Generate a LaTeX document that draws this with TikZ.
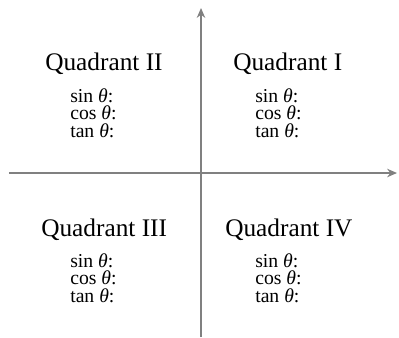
\documentclass[tikz,border=0pt]{standalone}
\usepackage{fontspec}
\setmainfont{Liberation Serif}
\usetikzlibrary{arrows.meta}
\begin{document}
\begin{tikzpicture}[x=0.025cm, y=0.025cm]
% Quadrant chart for the signs of the trig functions
\tikzset{
  axisline/.style={draw=black!50, line width=1.3pt, -{Stealth[length=7pt,width=6pt]}},
  quadtitle/.style={anchor=base west, inner sep=0pt, font=\fontsize{18}{20}\selectfont},
  trigline/.style={anchor=base west, inner sep=0pt, font=\fontsize{14}{16}\selectfont}
}
\useasboundingbox (-201,-164) rectangle (198,173);
% Axes
\coordinate (xleft) at (-192,0);
\coordinate (xright) at (196,0);
\coordinate (ybottom) at (0,-164);
\coordinate (ytop) at (0,165);
\draw[axisline] (xleft) -- (xright);
\draw[axisline] (ybottom) -- (ytop);
% Quadrant II
\node[quadtitle] (qtwo) at (-156,103) {Quadrant II};
\node[trigline] (qtwosin) at (-131,71) {sin \textit{θ}:};
\node[trigline] (qtwocos) at (-131,53.5) {cos \textit{θ}:};
\node[trigline] (qtwotan) at (-131,36) {tan \textit{θ}:};
% Quadrant I
\node[quadtitle] (qone) at (32,103) {Quadrant I};
\node[trigline] (qonesin) at (54,71) {sin \textit{θ}:};
\node[trigline] (qonecos) at (54,53.5) {cos \textit{θ}:};
\node[trigline] (qonetan) at (54,36) {tan \textit{θ}:};
% Quadrant III
\node[quadtitle] (qthree) at (-160,-63) {Quadrant III};
\node[trigline] (qthreesin) at (-131,-94) {sin \textit{θ}:};
\node[trigline] (qthreecos) at (-131,-111.5) {cos \textit{θ}:};
\node[trigline] (qthreetan) at (-131,-129) {tan \textit{θ}:};
% Quadrant IV
\node[quadtitle] (qfour) at (24,-63) {Quadrant IV};
\node[trigline] (qfoursin) at (54,-94) {sin \textit{θ}:};
\node[trigline] (qfourcos) at (54,-111.5) {cos \textit{θ}:};
\node[trigline] (qfourtan) at (54,-129) {tan \textit{θ}:};
\end{tikzpicture}
\end{document}
